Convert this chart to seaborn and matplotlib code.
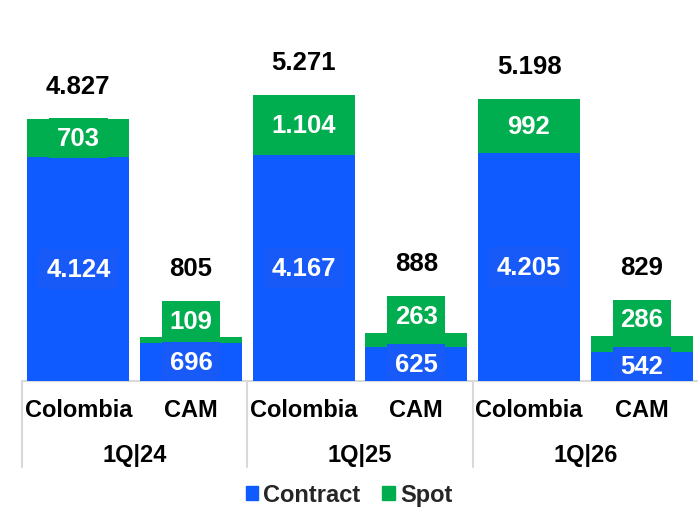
import matplotlib
matplotlib.use("Agg")
import matplotlib.pyplot as plt
import matplotlib.transforms as mtransforms
import pandas as pd
import seaborn as sns
from matplotlib.patches import Rectangle

# data
QUARTERS = ["1Q|24", "1Q|25", "1Q|26"]
REGIONS = ["Colombia", "CAM"]
CONTRACT = [4124, 696, 4167, 625, 4205, 542]
SPOT = [703, 109, 1104, 263, 992, 286]
TOTAL = [4827, 805, 5271, 888, 5198, 829]  # as printed (rounded upstream)

BLUE = "#0F5BFF"
BLUE_BOX = "#175AF8"
GREEN = "#00AD4F"
GRID = "#D9D9D9"

sns.set_theme(style="white")
plt.rcParams["font.family"] = ["Liberation Sans", "DejaVu Sans"]


def fmt(v):
    # Spanish thousands separator
    return f"{int(v):,}".replace(",", ".")


df = pd.DataFrame({
    "slot": [f"{q} {r}" for q in QUARTERS for r in REGIONS],
    "region": REGIONS * len(QUARTERS),
    "contract": CONTRACT,
    "spot": SPOT,
    "total": TOTAL,
})

fig = plt.figure(figsize=(6.98, 5.10), dpi=100)
ax = fig.add_axes([22 / 698, 128 / 510, 676 / 698, 380 / 510])

sns.barplot(data=df, x="slot", y="contract", color=BLUE, saturation=1,
            width=0.905, errorbar=None, linewidth=0, ax=ax)
sns.barplot(data=df, x="slot", y="spot", color=GREEN, saturation=1,
            width=0.905, errorbar=None, linewidth=0,
            bottom=df["contract"].to_numpy(), ax=ax)

ax.set_xlim(-0.5, 5.5)
ax.set_ylim(0, 7000)
ax.set_xticks([])
ax.set_yticks([])
ax.set_xlabel("")
ax.set_ylabel("")
for s in ax.spines.values():
    s.set_visible(False)
ax.axhline(0, color=GRID, lw=1.5, clip_on=False, zorder=0)

lab = dict(ha="center", va="center", color="white", fontsize=18.5, fontweight="bold")
tot = dict(ha="center", va="center", color="black", fontsize=18.5, fontweight="bold",
           textcoords="offset points")
for i, r in df.iterrows():
    ax.text(i, r.contract / 2, fmt(r.contract), **lab, clip_on=True,
            bbox=dict(boxstyle="square,pad=0.3", fc=BLUE_BOX, ec="none"))
    top = r.contract + r.spot
    if r.region == "Colombia":
        ax.text(i, r.contract + r.spot / 2, fmt(r.spot), **lab,
                bbox=dict(boxstyle="square,pad=0.3", fc=GREEN, ec="none"))
        ax.annotate(fmt(r.total), (i, top), xytext=(0, 24), **tot)
    else:
        # thin spot segment: label sits on top of the bar
        ax.annotate(fmt(r.spot), (i, top), xytext=(0, 12),
                    textcoords="offset points", **lab,
                    bbox=dict(boxstyle="square,pad=0.3", fc=GREEN, ec="none"))
        ax.annotate(fmt(r.total), (i, top), xytext=(0, 50), **tot)

# two-level category axis
trans = mtransforms.blended_transform_factory(ax.transData, ax.transAxes)
for i, r in df.iterrows():
    ax.text(i, -0.0755, r.region, transform=trans, ha="center", va="center",
            fontsize=17, fontweight="bold", color="black")
for k, q in enumerate(QUARTERS):
    ax.text(2 * k + 0.5, -0.194, q, transform=trans, ha="center", va="center",
            fontsize=17, fontweight="bold", color="black")
for x in [-0.5, 1.5, 3.5]:
    ax.plot([x, x], [0, -0.226], transform=trans, color=GRID, lw=1.5, clip_on=False)

handles = [Rectangle((0, 0), 1, 1, color=BLUE), Rectangle((0, 0), 1, 1, color=GREEN)]
fig.legend(handles, ["Contract", "Spot"], loc="center", bbox_to_anchor=(0.5, 14 / 510),
           ncol=2, frameon=False, handlelength=0.55, handleheight=0.55,
           handletextpad=0.2, columnspacing=0.93,
           prop=dict(size=17, weight="bold"))

fig.savefig("out.png", dpi=100)
